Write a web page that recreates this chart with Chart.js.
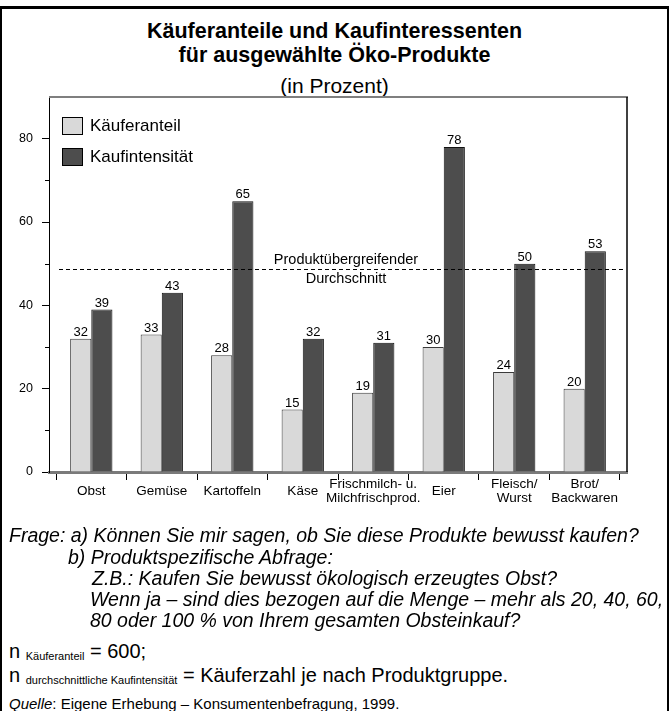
<!DOCTYPE html>
<html>
<head>
<meta charset="utf-8">
<script src="https://cdn.jsdelivr.net/npm/chart.js@4"></script>
<style>
  html, body { margin:0; padding:0; background:#fff; }
  body { width:669px; height:711px; overflow:hidden; position:relative; font-family:'Liberation Sans', Arial, sans-serif; color:#000; }
  #frame { position:absolute; left:0; top:6px; width:669px; height:760px; box-sizing:border-box; border:3px solid #000; border-left-width:2px; border-right-width:2px; border-bottom:none; }
  .ln { position:absolute; white-space:nowrap; }
  .title { left:0; width:669px; text-align:center; font-size:21.5px; line-height:24px; }
  .fr { font-style:italic; font-size:19.5px; line-height:22px; }
  .nn { font-size:20px; line-height:24px; }
  .sub { font-size:11px; vertical-align:-2px; }
  #wrap { position:absolute; left:0; top:80px; width:669px; height:450px; }
</style>
</head>
<body>
<div id="frame"></div>
<div class="ln title" style="top:19px;font-weight:bold;">Käuferanteile und Kaufinteressenten</div>
<div class="ln title" style="top:43px;font-weight:bold;">für ausgewählte Öko-Produkte</div>
<div class="ln title" style="top:74px;font-size:21px;">(in Prozent)</div>

<div id="wrap"><canvas id="c" width="669" height="450"></canvas></div>

<div class="ln fr" style="left:9px;top:524px;">Frage: a) Können Sie mir sagen, ob Sie diese Produkte bewusst kaufen?</div>
<div class="ln fr" style="left:68px;top:546px;">b) Produktspezifische Abfrage:</div>
<div class="ln fr" style="left:92px;top:567px;">Z.B.: Kaufen Sie bewusst ökologisch erzeugtes Obst?</div>
<div class="ln fr" style="left:90px;top:588px;">Wenn ja – sind dies bezogen auf die Menge – mehr als 20, 40, 60,</div>
<div class="ln fr" style="left:90px;top:609px;">80 oder 100 % von Ihrem gesamten Obsteinkauf?</div>
<div class="ln nn" style="left:9px;top:639px;">n <span class="sub">Käuferanteil</span> = 600;</div>
<div class="ln nn" style="left:9px;top:663px;">n <span class="sub">durchschnittliche Kaufintensität</span> = Käuferzahl je nach Produktgruppe.</div>
<div class="ln" style="left:9px;top:695px;font-size:15px;line-height:18px;"><i>Quelle</i>: Eigene Erhebung – Konsumentenbefragung, 1999.</div>

<script>
const categories = ['Obst', 'Gemüse', 'Kartoffeln', 'Käse', ['Frischmilch- u.', 'Milchfrischprod.'], 'Eier', ['Fleisch/', 'Wurst'], ['Brot/', 'Backwaren']];
const kaeuferanteil = [32, 33, 28, 15, 19, 30, 24, 20];
const kaufintensitaet = [39, 43, 65, 32, 31, 78, 50, 53];
const seriesNames = ['Käuferanteil', 'Kaufintensität'];
const yTicks = [0, 10, 20, 30, 40, 50, 60, 70, 80];
const yLabelTicks = [0, 20, 40, 60, 80];
const durchschnitt = 48.7;
const durchschnittLabel = ['Produktübergreifender', 'Durchschnitt'];

const FONT = "'Liberation Sans', Arial, sans-serif";
const COLORS = ['#d9d9d9', '#4d4d4d'];
const BORDERS = ['#3a3a3a', '#111111'];

const extras = {
  id: 'extras',
  afterDatasetsDraw(chart) {
    const { ctx, chartArea: a, scales } = chart;
    const ys = scales.y;
    ctx.save();
    // top border (grey) and right border (black)
    ctx.strokeStyle = '#7f7f7f'; ctx.lineWidth = 2;
    ctx.beginPath(); ctx.moveTo(a.left, a.top); ctx.lineTo(a.right + 1, a.top); ctx.stroke();
    ctx.strokeStyle = '#000'; ctx.lineWidth = 1.5;
    ctx.beginPath(); ctx.moveTo(a.right, a.top); ctx.lineTo(a.right, a.bottom); ctx.stroke();
    // minor y ticks
    ctx.lineWidth = 1; ctx.strokeStyle = '#000';
    yTicks.filter(v => !yLabelTicks.includes(v)).forEach(v => {
      const y = Math.round(ys.getPixelForValue(v)) + 0.5;
      ctx.beginPath(); ctx.moveTo(a.left - 4, y); ctx.lineTo(a.left, y); ctx.stroke();
    });
    // average dashed line
    const yAvg = Math.round(ys.getPixelForValue(durchschnitt)) + 0.5;
    ctx.setLineDash([4, 3]);
    ctx.beginPath(); ctx.moveTo(a.left + 10, yAvg); ctx.lineTo(a.right - 2, yAvg); ctx.stroke();
    ctx.setLineDash([]);
    ctx.fillStyle = '#000';
    ctx.font = '14.5px ' + FONT;
    ctx.textAlign = 'center'; ctx.textBaseline = 'middle';
    const cx = (a.left + a.right) / 2 + 8;
    ctx.fillText(durchschnittLabel[0], cx, yAvg - 10);
    ctx.fillText(durchschnittLabel[1], cx, yAvg + 9);
    // value labels
    ctx.font = '13px ' + FONT;
    ctx.textBaseline = 'alphabetic';
    chart.data.datasets.forEach((ds, di) => {
      const meta = chart.getDatasetMeta(di);
      meta.data.forEach((el, i) => {
        ctx.fillText(String(ds.data[i].y), el.x, el.y - 3);
      });
    });
    // legend
    ctx.font = '17px ' + FONT;
    ctx.textAlign = 'left'; ctx.textBaseline = 'middle';
    chart.data.datasets.forEach((ds, di) => {
      const x = a.left + 13, y = a.top + 20 + di * 31;
      ctx.fillStyle = ds.backgroundColor;
      ctx.fillRect(x, y, 20, 17);
      ctx.strokeStyle = '#000'; ctx.lineWidth = 1;
      ctx.strokeRect(x + 0.5, y + 0.5, 20, 17);
      ctx.fillStyle = '#000';
      ctx.fillText(ds.label, x + 28, y + 9);
    });
    ctx.restore();
  }
};

new Chart(document.getElementById('c'), {
  type: 'bar',
  data: {
    datasets: [
      { label: seriesNames[0], data: kaeuferanteil.map((v, i) => ({ x: i, y: v })), backgroundColor: COLORS[0], borderColor: BORDERS[0], borderWidth: 1, borderSkipped: 'bottom', categoryPercentage: 0.6, barPercentage: 1.0 },
      { label: seriesNames[1], data: kaufintensitaet.map((v, i) => ({ x: i, y: v })), backgroundColor: COLORS[1], borderColor: BORDERS[1], borderWidth: 1, borderSkipped: 'bottom', categoryPercentage: 0.6, barPercentage: 1.0 }
    ]
  },
  options: {
    responsive: false,
    animation: false,
    layout: { padding: { top: 17, right: 42, left: 0, bottom: 0 } },
    plugins: { legend: { display: false }, title: { display: false }, tooltip: { enabled: false } },
    scales: {
      x: {
        type: 'linear', min: -0.6, max: 7.6, offset: false,
        afterBuildTicks: s => { s.ticks = categories.map((_, i) => ({ value: i })); },
        afterFit: s => { s.height = 58; },
        ticks: { autoSkip: false, maxRotation: 0, minRotation: 0, crossAlign: 'center', padding: 4, color: '#000',
                 font: { family: FONT, size: 13.5, lineHeight: 1.05 }, callback: v => categories[v] },
        grid: { drawOnChartArea: false, tickLength: 8, tickColor: '#000', tickWidth: 1 },
        border: { color: '#7a7a7a', width: 3 }
      },
      y: {
        min: 0, max: 90,
        afterBuildTicks: s => { s.ticks = yTicks.map(v => ({ value: v })); },
        afterFit: s => { s.width = 49; },
        ticks: { padding: 9, color: '#000', font: { family: FONT, size: 12.5 }, callback: v => yLabelTicks.includes(v) ? String(v) : '' },
        grid: { drawOnChartArea: false, tickLength: 7, tickWidth: 1, tickColor: c => (c.tick && yLabelTicks.includes(c.tick.value)) ? '#000' : 'rgba(0,0,0,0)' },
        border: { color: '#000', width: 1 }
      }
    }
  },
  plugins: [extras]
});
</script>
</body>
</html>
